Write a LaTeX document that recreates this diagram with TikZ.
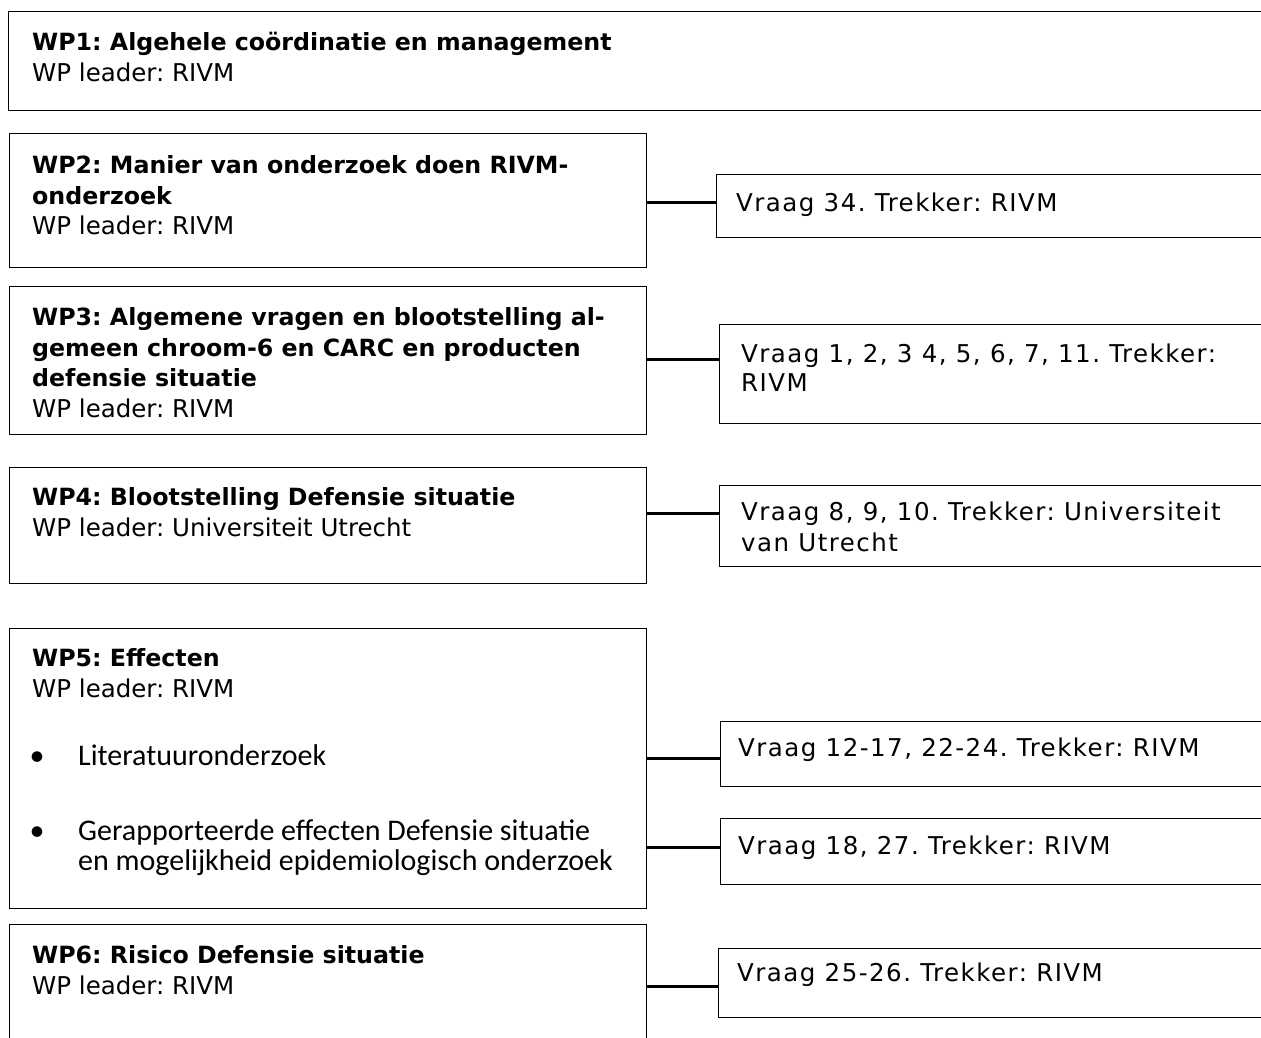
\documentclass[tikz,border=0pt]{standalone}
\usepackage{fontspec}
\setmainfont{DejaVu Sans}
\newfontfamily\bulletfont{Carlito}
\newfontfamily\vraagfont[LetterSpace=6]{DejaVu Sans}
\usetikzlibrary{positioning}

\newcommand\kop[1]{{\fontsize{23.7}{30.5}\selectfont\bfseries #1}}

\tikzset{
  wpbox/.style={draw,line width=1.4pt,rectangle,anchor=north west,inner sep=0pt,minimum width=637},
  qbox/.style={draw,line width=1.4pt,rectangle,anchor=north west,inner sep=0pt,minimum width=600},
  wptext/.style={anchor=north west,align=left,inner sep=0pt,font=\fontsize{24.5}{30.5}\selectfont},
  qtext/.style={anchor=north west,align=left,inner sep=0pt,font=\vraagfont\fontsize{24.5}{30}\selectfont},
  bullettext/.style={anchor=north west,align=left,inner sep=0pt,font=\bulletfont\fontsize{30}{30}\selectfont},
  link/.style={line width=3pt}
}

\begin{document}
\frenchspacing
\begin{tikzpicture}[x=1pt,y=-1pt]
\clip (0,0) rectangle (1261,1037);

% work packages
\node[wpbox,minimum width=1300,minimum height=99] (wp1) at (8,11) {};
\node[wptext] (wp1t) at (32,32.4) {\kop{WP1: Algehele coördinatie en management}\\WP leader: RIVM};

\node[wpbox,minimum height=134] (wp2) at (9,133) {};
\node[wptext] (wp2t) at (32,155.4) {\kop{WP2: Manier van onderzoek doen RIVM-}\\\kop{onderzoek}\\WP leader: RIVM};

\node[wpbox,minimum height=148] (wp3) at (9,286) {};
\node[wptext] (wp3t) at (32,307.4) {\kop{WP3: Algemene vragen en blootstelling al-}\\\kop{gemeen chroom-6 en CARC en producten}\\\kop{defensie situatie}\\WP leader: RIVM};

\node[wpbox,minimum height=116] (wp4) at (9,467) {};
\node[wptext] (wp4t) at (32,487.4) {\kop{WP4: Blootstelling Defensie situatie}\\WP leader: Universiteit Utrecht};

\node[wpbox,minimum height=280] (wp5) at (9,628) {};
\node[wptext] (wp5t) at (32,648.5) {\kop{WP5: Effecten}\\WP leader: RIVM};
\node[bullettext] (wp5a) at (78,744) {\llap{\makebox[48.5pt][l]{•}}Literatuuronderzoek};
\node[bullettext] (wp5b) at (78,819) {\llap{\makebox[48.5pt][l]{•}}Gerapporteerde effecten Defensie situatie\\en mogelijkheid epidemiologisch onderzoek};

\node[wpbox,minimum height=200] (wp6) at (9,924) {};
\node[wptext] (wp6t) at (32,945.5) {\kop{WP6: Risico Defensie situatie}\\WP leader: RIVM};

% vragen
\node[qbox,minimum height=63] (q2) at (716,174) {};
\node[qtext] (q2t) at (736,192.4) {Vraag 34. Trekker: RIVM};

\node[qbox,minimum height=99] (q3) at (719,324) {};
\node[qtext,font=\vraagfont\fontsize{24.5}{29}\selectfont] (q3t) at (741,343.4) {Vraag 1, 2, 3 4, 5, 6, 7, 11. Trekker:\\RIVM};

\node[qbox,minimum height=81] (q4) at (719,485) {};
\node[qtext,font=\vraagfont\fontsize{24.5}{31}\selectfont] (q4t) at (741,501.4) {Vraag 8, 9, 10. Trekker: Universiteit\\van Utrecht};

\node[qbox,minimum height=65] (q5a) at (720,721) {};
\node[qtext] (q5at) at (738,737.4) {Vraag 12-17, 22-24. Trekker: RIVM};

\node[qbox,minimum height=66] (q5b) at (720,818) {};
\node[qtext] (q5bt) at (738,835.4) {Vraag 18, 27. Trekker: RIVM};

\node[qbox,minimum height=69] (q6) at (718,948) {};
\node[qtext] (q6t) at (737,962.4) {Vraag 25-26. Trekker: RIVM};

% verbindingen
\draw[link] (wp2.east |- 0,202) -- (q2.west |- 0,202);
\draw[link] (wp3.east |- 0,359) -- (q3.west |- 0,359);
\draw[link] (wp4.east |- 0,513) -- (q4.west |- 0,513);
\draw[link] (wp5.east |- 0,758) -- (q5a.west |- 0,758);
\draw[link] (wp5.east |- 0,847) -- (q5b.west |- 0,847);
\draw[link] (wp6.east |- 0,986) -- (q6.west |- 0,986);
\end{tikzpicture}
\end{document}
